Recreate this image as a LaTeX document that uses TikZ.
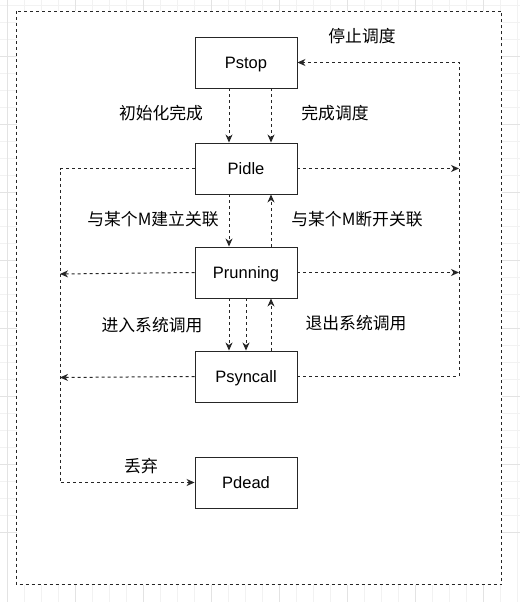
\documentclass[tikz,border=0pt]{standalone}
\usepackage{fontspec}
\setmainfont{Liberation Sans}
\newfontfamily\cjk{Noto Sans CJK SC}
\usetikzlibrary{arrows.meta}
\begin{document}
\begin{tikzpicture}[x=1pt,y=-1pt,
  box/.style={draw=black!85, line width=0.9pt, fill=white, minimum width=102pt, minimum height=51pt, inner sep=0pt, text height=11.7pt, text depth=0pt, font=\fontsize{16.5}{19}\selectfont},
  lbl/.style={inner sep=0pt, font=\cjk\fontsize{16.8}{19}\selectfont},
  conn/.style={draw=black!85, line width=1pt, dash pattern=on 3pt off 3pt},
  arr/.style={conn, -{Stealth[length=8pt,width=7pt,inset=2.5pt]}},
  gridminor/.style={draw=gray!10, line width=0.5pt},
  gridmajor/.style={draw=gray!22, line width=0.5pt}]
\useasboundingbox (0,0) rectangle (520,602);
% background grid
\foreach \i in {0,...,31} {
  \draw[gridminor] ({7.7+17*\i},0) -- ({7.7+17*\i},602);
  \draw[gridminor] (0,{5.7+17*\i}) -- (520,{5.7+17*\i});
}
\foreach \i in {0,...,8} {
  \draw[gridmajor] ({7.7+68*\i},0) -- ({7.7+68*\i},602);
  \draw[gridmajor] (0,{56.7+68*(\i-1)}) -- (520,{56.7+68*(\i-1)});
}
% outer container
\draw[conn, fill=white] (16.5,11.5) rectangle (501.5,584.5);
% states
\node[box] (Pstop) at (246,62.5) {Pstop};
\node[box] (Pidle) at (246,168.5) {Pidle};
\node[box] (Prunning) at (246,272.5) {Prunning};
\node[box] (Psyncall) at (246,376.5) {Psyncall};
\node[box] (Pdead) at (246,482.5) {Pdead};
% routing points
\coordinate (rt) at (459,62.5);
\coordinate (ri) at (459,168.5);
\coordinate (rr) at (459,272.5);
\coordinate (rs) at (459,376.5);
\coordinate (li) at (60,168.5);
\coordinate (lr) at (60,274);
\coordinate (ls) at (60,377.5);
\coordinate (ld) at (60,482.5);
% vertical transitions
\draw[arr] ([xshift=-17pt]Pstop.south) -- ([xshift=-17pt]Pidle.north);
\draw[arr] ([xshift=25pt]Pstop.south) -- ([xshift=25pt]Pidle.north);
\draw[arr] ([xshift=-17pt]Pidle.south) -- ([xshift=-17pt]Prunning.north);
\draw[arr] ([xshift=25pt]Prunning.north) -- ([xshift=25pt]Pidle.south);
\draw[arr] ([xshift=-17pt]Prunning.south) -- ([xshift=-17pt]Psyncall.north);
\draw[arr] (Prunning.south) -- (Psyncall.north);
\draw[arr] ([xshift=25pt]Psyncall.north) -- ([xshift=25pt]Prunning.south);
% right bus to Pstop
\draw[arr] (Psyncall.east) -- (rs) -- (rt) -- (Pstop.east);
\draw[arr] (Pidle.east) -- (ri);
\draw[arr] (Prunning.east) -- (rr);
% left bus to Pdead
\draw[arr] (Pidle.west) -- (li) -- (ld) -- (Pdead.west);
\draw[arr] (Prunning.west) -- (lr);
\draw[arr] (Psyncall.west) -- (ls);
% labels
\node[lbl] (l1) at (161,113.5) {初始化完成};
\node[lbl] (l2) at (335,113.5) {完成调度};
\node[lbl] (l3) at (362,36.5) {停止调度};
\node[lbl] (l4) at (153,219) {与某个M建立关联};
\node[lbl] (l5) at (357,219) {与某个M断开关联};
\node[lbl] (l6) at (152,325) {进入系统调用};
\node[lbl] (l7) at (356,323.5) {退出系统调用};
\node[lbl] (l8) at (141,466) {丢弃};
\end{tikzpicture}
\end{document}
